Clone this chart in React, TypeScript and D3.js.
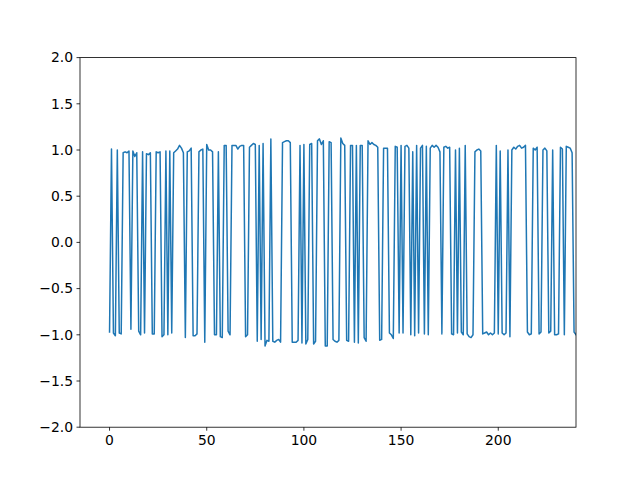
import React from "react";
import * as d3 from "d3";

const values: number[] = [
  -0.97, 1.01, -0.98, -1.01, 1.0, -0.98, -0.99, 0.97, 0.98, 0.97,
  0.99, -0.94, 0.99, 0.93, 0.97, -0.96, -1.0, 0.98, -0.98, 0.96,
  0.95, 0.97, -0.99, -0.99, 0.98, 0.97, 0.98, -1.02, -1.0, 0.99,
  -1.0, 0.99, -0.98, 0.97, 0.99, 1.01, 1.05, 1.02, 0.97, -1.03,
  0.98, 0.99, 1.02, -1.01, -1.01, -0.99, 0.98, 1.0, 1.01, -1.08,
  1.06, 1.0, 1.0, 0.98, -1.0, -1.0, 0.98, -1.02, -1.03, 1.05,
  1.05, -0.96, -1.0, 1.05, 1.05, 1.05, 1.01, 1.04, 1.05, 1.05,
  -1.02, -1.0, 1.03, 1.05, 1.07, 1.06, -1.07, 1.05, -1.05, 1.07,
  -1.12, -1.06, -1.07, 1.12, -1.07, -1.08, -1.06, -1.05, -1.08, 1.08,
  1.09, 1.1, 1.1, 1.08, -1.08, -1.08, -1.08, -1.06, 1.05, -1.09,
  1.06, -1.1, -1.05, 1.06, 1.07, -1.1, -1.07, 1.1, 1.12, 1.06,
  1.1, -1.12, -1.12, 1.09, 1.08, -1.05, -1.07, -1.08, -1.06, 1.13,
  1.07, 1.05, -1.06, -1.07, 1.05, 1.05, -1.08, 1.05, -1.09, 1.05,
  1.05, -1.03, -1.07, 1.1, 1.06, 1.08, 1.06, 1.05, 1.03, -1.06,
  -1.05, 1.02, 1.02, 1.02, -0.98, -1.0, -1.04, 1.04, 1.03, -0.98,
  1.05, -0.98, 1.04, 1.05, 1.02, -1.0, 0.98, -1.01, 1.05, -0.98,
  1.02, 1.05, -0.99, 1.04, -1.0, 1.02, 1.05, 1.03, 1.05, 1.03,
  0.98, -0.99, 1.03, 1.04, 1.02, 1.03, -0.99, -1.0, 1.0, -0.98,
  1.02, -0.97, -1.0, 1.05, -0.99, -1.02, -1.03, -1.0, 0.98, 1.0,
  1.01, 0.99, -0.99, -0.98, -0.97, -1.0, -0.98, -1.0, -0.98, 1.05,
  -0.99, 0.99, -0.98, -1.0, -0.98, 1.0, -1.02, 1.0, 1.03, 1.01,
  1.04, 1.05, 1.02, 1.03, 1.05, -0.97, -1.0, -0.99, 1.02, 1.0,
  1.03, -0.99, -0.97, 1.0, 1.02, 0.99, -0.98, -0.96, 1.0, -1.0,
  -1.0, -0.99, 1.03, 1.01, -1.0, 1.04, 1.03, 1.02, 0.97, -0.97,
  -1.0,
];

const xTicks = [0, 50, 100, 150, 200];
const yTicks = [-2.0, -1.5, -1.0, -0.5, 0.0, 0.5, 1.0, 1.5, 2.0];
const xDomain: [number, number] = [-15.2, 240];
const yDomain: [number, number] = [-2, 2];

const W = 640;
const H = 480;
const L = 80;
const R = 576;
const T = 57.6;
const B = 427.2;

const fmtY = (v: number) => d3.format(".1f")(v).replace("-", "\u2212");

export default function App() {
  const x = d3.scaleLinear().domain(xDomain).range([L, R]);
  const y = d3.scaleLinear().domain(yDomain).range([B, T]);
  const line = d3
    .line<number>()
    .x((_, i) => x(i))
    .y((d) => y(d));
  const font = "'DejaVu Sans', sans-serif";
  return (
    <svg
      width={W}
      height={H}
      viewBox={`0 0 ${W} ${H}`}
      style={{ position: "absolute", left: 0, top: 0, background: "#fff" }}
    >
      <defs>
        <clipPath id="plotclip">
          <rect x={L} y={T} width={R - L} height={B - T} />
        </clipPath>
      </defs>
      <rect x={0} y={0} width={W} height={H} fill="#fff" />
      <path
        d={line(values) || ""}
        fill="none"
        stroke="#1f77b4"
        strokeWidth={1.5}
        strokeLinejoin="round"
        strokeLinecap="square"
        clipPath="url(#plotclip)"
      />
      <rect x={L} y={T} width={R - L} height={B - T} fill="none" stroke="#000" strokeWidth={0.8} />
      {xTicks.map((t) => (
        <g key={"x" + t}>
          <line x1={x(t)} x2={x(t)} y1={B} y2={B + 3.5} stroke="#000" strokeWidth={0.8} />
          <text
            x={x(t)}
            y={B + 7}
            dy="0.76em"
            textAnchor="middle"
            fontFamily={font}
            fontSize={13.9}
            fill="#000"
          >
            {t}
          </text>
        </g>
      ))}
      {yTicks.map((t) => (
        <g key={"y" + t}>
          <line x1={L - 3.5} x2={L} y1={y(t)} y2={y(t)} stroke="#000" strokeWidth={0.8} />
          <text
            x={L - 7}
            y={y(t)}
            dy="0.35em"
            textAnchor="end"
            fontFamily={font}
            fontSize={13.9}
            fill="#000"
          >
            {fmtY(t)}
          </text>
        </g>
      ))}
    </svg>
  );
}
